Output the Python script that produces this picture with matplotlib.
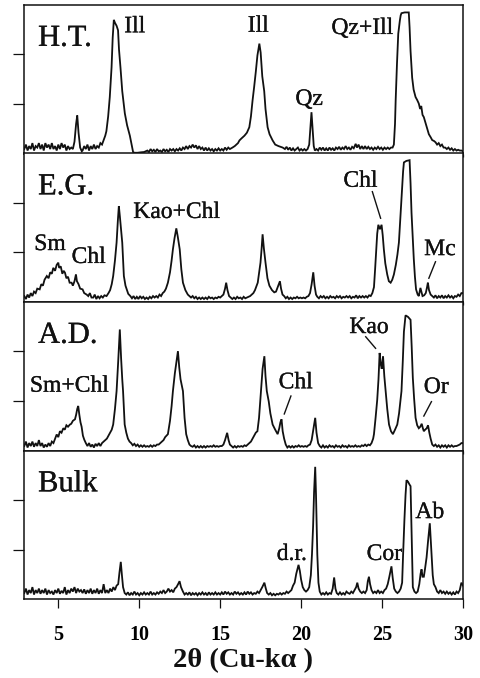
import matplotlib
matplotlib.use("Agg")
import matplotlib.pyplot as plt
import matplotlib.patheffects as pe

# ---------------- data (2theta, intensity in % of panel height) ----------------
ht_profile = [
    (2.9,3),(3.0,6),(3.1,2),(3.2,5),(3.3,3),(3.4,7),(3.5,2),(3.6,5),(3.7,4),(3.8,7),(3.9,3),(4.0,6),
    (4.1,2),(4.2,7),(4.3,4),(4.4,6),(4.5,3),(4.6,7),(4.7,3),(4.8,5),(4.9,2),(5.0,6),(5.1,3),(5.2,7),
    (5.3,4),(5.4,6),(5.5,2),(5.6,5),(5.7,3),(5.8,4),(5.9,3),(6.0,8),(6.1,20),(6.17,25.6),(6.25,14),
    (6.35,4),(6.45,1.5),(6.5,2),(6.6,5),(6.7,3),(6.8,6),(6.9,2),(7.0,5),(7.1,3),(7.2,6),(7.3,3),(7.4,5),
    (7.5,4),(7.6,7),(7.7,6),(7.8,9),(7.9,12),(7.97,15),(8.08,25),(8.18,38),(8.29,58),(8.36,78),(8.43,90),
    (8.5,88),(8.6,86),(8.69,83),(8.75,70),(8.84,58),(8.95,42),(9.11,27),(9.25,19),(9.42,12),(9.55,5),
    (9.62,1),(9.7,0.5),(9.9,0.5),(10.1,0.8),(10.3,1),(10.5,2),(10.6,1),(10.7,3),(10.8,1.5),(10.9,2.5),
    (11.0,1),(11.1,3),(11.2,1.5),(11.3,2),(11.4,1),(11.5,3),(11.6,1.5),(11.7,2.5),(11.8,1),(11.9,3),
    (12.0,2),(12.1,3),(12.2,1.5),(12.3,3),(12.4,2),(12.5,3.5),(12.6,2),(12.7,4),(12.8,3),(12.9,5),
    (13.0,3),(13.1,5),(13.2,4),(13.3,6),(13.4,4),(13.5,5.5),(13.6,3),(13.7,5),(13.8,3),(13.9,4),
    (14.0,2),(14.1,4),(14.2,2),(14.3,3.5),(14.4,2),(14.5,3),(14.6,1.5),(14.7,3),(14.8,2),(14.9,3.5),
    (15.0,2),(15.1,3),(15.2,2),(15.3,4),(15.4,2.5),(15.5,4),(15.6,3),(15.76,4),(15.9,5),(16.0,6),
    (16.1,7),(16.19,8.8),(16.3,10),(16.5,12),(16.65,14),(16.8,17.7),(16.9,25),(17.0,35.7),(17.1,45),
    (17.2,55),(17.3,66),(17.42,74),(17.5,68),(17.6,52),(17.72,42),(17.8,30),(17.93,17.7),(18.05,13),
    (18.24,8.8),(18.4,6),(18.6,5),(18.86,4),(19.0,3),(19.1,4.5),(19.2,2.5),(19.3,4),(19.4,2),(19.5,3.5),
    (19.6,2),(19.7,3),(19.8,4),(19.9,2),(20.0,3),(20.1,2),(20.2,3),(20.3,2),(20.4,3),(20.5,6),(20.58,18),
    (20.64,27.8),(20.7,18),(20.78,5),(20.85,2),(20.95,3),(21.05,2),(21.15,4),(21.25,2.5),(21.35,4),
    (21.45,2),(21.55,3.5),(21.65,2),(21.75,4),(21.85,2.5),(21.95,3.5),(22.05,2),(22.15,4),(22.25,3),
    (22.35,4.5),(22.45,2.5),(22.55,4),(22.65,3),(22.75,5),(22.85,3),(22.95,4),(23.05,2.5),(23.15,4.5),
    (23.25,3.5),(23.37,6.5),(23.45,4),(23.55,6),(23.65,3),(23.75,5),(23.85,3),(23.95,5),(24.05,3),
    (24.15,4.5),(24.25,3),(24.35,4),(24.45,2.5),(24.55,4),(24.65,3),(24.75,4.5),(24.85,3),(24.95,4),
    (25.05,2.5),(25.15,4),(25.25,3),(25.35,4),(25.45,3),(25.55,4),(25.65,4),(25.73,6),(25.8,20),
    (25.84,35.7),(25.92,60),(26.0,80.6),(26.1,89.6),(26.15,93),(26.2,94.5),(26.4,95),(26.65,95),
    (26.7,85),(26.76,69),(26.86,51),(26.95,43),(27.07,38),(27.17,36),(27.27,33.6),(27.35,30),(27.42,32),
    (27.5,26),(27.58,24.5),(27.7,20),(27.8,16),(27.89,13),(28.0,11),(28.1,9),(28.2,8.5),(28.3,7.6),
    (28.4,6),(28.5,7),(28.6,5),(28.7,6),(28.8,4),(28.9,4),(29.0,3),(29.1,4),(29.2,2.5),(29.3,3.5),
    (29.4,2),(29.5,3),(29.6,2),(29.7,2.5),(29.8,2),(29.9,2),(30.0,1.5),
]

eg_profile = [
    (2.9,4),(3.0,2),(3.1,5),(3.2,3),(3.3,6),(3.4,4),(3.5,7),(3.6,6),(3.7,9),(3.85,8.5),(3.95,12),
    (4.05,11),(4.15,15),(4.29,17.5),(4.4,16),(4.5,20),(4.6,19),(4.69,23),(4.8,21),(4.9,25),(5.0,26.5),
    (5.05,23),(5.15,24),(5.25,19),(5.33,21),(5.41,19.8),(5.5,16),(5.6,17),(5.7,13),(5.82,13),(5.9,11),
    (6.0,14),(6.09,18.6),(6.15,14),(6.25,12),(6.35,9),(6.5,8.5),(6.6,6),(6.75,5),(6.85,4),(6.95,6),
    (7.05,3),(7.16,3),(7.25,5),(7.35,2),(7.45,4),(7.55,2.5),(7.65,4),(7.75,3),(7.85,4.5),(7.98,4),
    (8.1,6),(8.2,8),(8.3,12),(8.39,17.5),(8.5,28),(8.6,40),(8.68,55),(8.74,64.6),(8.8,58),(8.88,48),
    (8.95,40),(9.05,17.5),(9.15,11),(9.32,5.5),(9.45,4),(9.55,2.5),(9.65,4),(9.75,2),(9.85,3.5),
    (9.95,2),(10.05,4),(10.15,2.5),(10.25,3.5),(10.35,2),(10.45,3),(10.55,2),(10.65,3.5),(10.75,2.5),
    (10.85,4),(10.95,3),(11.05,4),(11.15,3),(11.25,5),(11.35,4),(11.45,6),(11.55,7),(11.65,9),
    (11.77,13),(11.9,20),(12.0,28),(12.08,35.5),(12.18,43),(12.29,49.6),(12.38,44),(12.5,35.5),
    (12.6,22),(12.7,13),(12.85,8),(13.0,5),(13.1,4),(13.2,3),(13.3,4),(13.4,2.5),(13.5,3.5),(13.6,2),
    (13.7,3),(13.8,2),(13.9,3),(14.0,2),(14.1,3),(14.2,2),(14.3,3.5),(14.4,2.5),(14.5,3),(14.6,2),
    (14.7,3),(14.8,2.5),(14.9,3.5),(15.0,3),(15.1,4),(15.2,5),(15.3,9),(15.37,13),(15.45,8),(15.55,4),
    (15.65,3),(15.75,2),(15.85,3),(15.95,2),(16.05,3.5),(16.15,2.5),(16.25,3),(16.35,2),(16.45,3.5),
    (16.55,2.5),(16.65,3),(16.75,3.5),(16.85,4),(16.95,5),(17.05,6),(17.15,8),(17.32,13),(17.49,26.5),
    (17.56,36),(17.62,45.6),(17.7,36),(17.8,26.5),(17.92,16),(18.04,11),(18.2,8),(18.34,6.5),(18.45,7),
    (18.55,10),(18.62,12),(18.69,14),(18.76,9),(18.85,5),(18.95,4),(19.05,2.5),(19.15,3.5),(19.25,2),
    (19.35,3),(19.45,2),(19.55,3),(19.65,2.5),(19.75,3.5),(19.85,2.5),(19.95,3),(20.05,2.5),(20.15,3),
    (20.25,2.5),(20.35,3.5),(20.45,4),(20.55,6),(20.65,12),(20.75,20),(20.83,11),(20.92,5),(21.0,3.5),
    (21.1,2.5),(21.2,4),(21.3,3),(21.4,4),(21.5,2.5),(21.6,3.5),(21.7,2.5),(21.8,4),(21.9,3),(22.0,3.5),
    (22.1,2.5),(22.2,4),(22.3,3),(22.4,4),(22.5,2.5),(22.6,3.5),(22.7,3),(22.8,4),(22.9,3),(23.0,4),
    (23.1,2.5),(23.2,3.5),(23.3,3),(23.4,4.5),(23.5,2.5),(23.6,4),(23.7,3),(23.8,4),(23.9,3),(24.0,4),
    (24.1,3),(24.2,4.5),(24.3,4),(24.4,6),(24.5,10),(24.57,22),(24.64,35.5),(24.7,46),(24.77,52),
    (24.87,49),(24.97,52),(25.04,45),(25.11,35.5),(25.2,26),(25.32,18.5),(25.42,14),(25.53,13),
    (25.63,15),(25.73,18.5),(25.85,25),(25.95,32),(26.04,40),(26.15,60),(26.24,76),(26.3,88),(26.35,94),
    (26.5,95),(26.7,95.5),(26.76,80),(26.82,60),(26.9,42),(26.96,29),(27.03,17),(27.1,8.5),(27.2,5),
    (27.27,4),(27.37,9.5),(27.45,6),(27.5,4),(27.6,4.5),(27.7,6),(27.78,10),(27.83,13),(27.9,8),(28.0,5),
    (28.1,4),(28.2,3),(28.3,4.5),(28.4,2.5),(28.5,4),(28.6,3),(28.7,4.5),(28.8,2.5),(28.9,4),(29.0,3),
    (29.1,4.5),(29.2,3),(29.3,4),(29.4,2.5),(29.5,4),(29.6,3.5),(29.7,5),(29.8,4),(29.9,6),(30.0,6),
]

ad_profile = [
    (2.9,3),(3.0,6),(3.1,2),(3.2,5),(3.3,3),(3.4,6),(3.5,2.5),(3.6,5),(3.7,3),(3.8,7),(3.9,3),(4.0,5),
    (4.1,2),(4.2,4),(4.3,2.5),(4.4,5),(4.5,3),(4.6,6),(4.7,5),(4.8,8),(4.9,10.8),(5.0,9),(5.1,13),
    (5.2,12),(5.31,15),(5.4,14),(5.5,17),(5.6,16),(5.72,17.5),(5.8,18),(5.9,20),(6.03,21),(6.1,24),
    (6.17,28),(6.23,30),(6.3,24),(6.37,19),(6.44,16),(6.52,10),(6.6,7.4),(6.7,5),(6.8,3),(6.9,5),
    (7.0,2.5),(7.1,4),(7.2,2),(7.3,4.5),(7.4,3),(7.5,5),(7.6,3),(7.7,5),(7.8,6),(7.9,7),(8.0,8),
    (8.1,10),(8.2,12),(8.3,14),(8.39,17.5),(8.5,28),(8.6,40),(8.7,60),(8.8,81.5),(8.88,62),(8.95,48),
    (9.0,40),(9.05,28),(9.1,17.5),(9.2,12),(9.3,8),(9.4,6),(9.5,5),(9.6,3.5),(9.7,4.5),(9.8,3),(9.9,4),
    (10.0,2.5),(10.1,3.5),(10.2,2.5),(10.3,3.5),(10.4,2.5),(10.5,3),(10.6,2.5),(10.7,3.5),(10.8,2.5),
    (10.9,3.5),(11.0,3),(11.1,4),(11.2,4),(11.3,5),(11.4,6),(11.5,7),(11.6,9),(11.77,11),(11.9,20),
    (12.0,30),(12.08,40),(12.2,52),(12.3,60),(12.39,66.9),(12.47,56),(12.55,48),(12.7,40),(12.8,22),
    (12.9,11),(13.0,7),(13.1,4),(13.2,3),(13.3,2.5),(13.4,3.5),(13.5,2),(13.6,3),(13.7,2),(13.8,3),
    (13.9,2),(14.0,3),(14.1,2),(14.2,3),(14.3,2.5),(14.4,3),(14.5,2.5),(14.6,3.5),(14.7,2.5),(14.8,3),
    (14.9,2.5),(15.0,3),(15.1,3),(15.2,4),(15.3,7),(15.43,11.9),(15.52,7),(15.6,4),(15.7,3),(15.8,2),
    (15.9,3),(16.0,2),(16.1,3),(16.2,2.5),(16.3,3),(16.4,2.5),(16.5,3.5),(16.6,3),(16.7,4),(16.8,5),
    (16.9,6),(17.0,8),(17.1,10),(17.2,12),(17.3,13),(17.4,22),(17.52,40),(17.62,55),(17.73,63.5),
    (17.8,50),(17.88,40),(18.0,33),(18.1,25),(18.24,17.5),(18.4,14),(18.55,11),(18.65,15),(18.72,19),
    (18.79,21),(18.86,13),(18.95,8),(19.05,4),(19.15,2),(19.25,3),(19.35,2),(19.45,3),(19.55,2),
    (19.65,3),(19.75,2.5),(19.85,3.5),(19.95,2.5),(20.05,3),(20.15,2.5),(20.25,3),(20.35,2.5),
    (20.45,3.5),(20.55,4),(20.65,7),(20.75,14),(20.87,22),(20.95,12),(21.05,5),(21.15,3),(21.25,2),
    (21.35,3.5),(21.45,2),(21.55,3),(21.65,2),(21.75,3.5),(21.85,2.5),(21.95,3),(22.05,2),(22.15,3.5),
    (22.25,2.5),(22.35,3),(22.45,2),(22.55,3.5),(22.65,2.5),(22.75,3),(22.85,2),(22.95,3.5),(23.05,2.5),
    (23.15,3),(23.25,2.5),(23.35,3.5),(23.45,2.5),(23.55,3),(23.65,2.5),(23.75,3.5),(23.85,3),(23.95,4),
    (24.05,3),(24.15,4),(24.25,3.5),(24.35,5),(24.45,8),(24.5,11),(24.6,22),(24.7,34),(24.78,48),
    (24.85,65.7),(24.92,58),(24.98,55),(25.06,63.5),(25.14,50),(25.22,40),(25.32,28),(25.43,17.5),
    (25.55,13),(25.67,11),(25.8,14),(25.94,17.5),(26.05,25),(26.2,40),(26.28,60),(26.35,80),(26.45,91),
    (26.6,90),(26.76,88),(26.83,70),(26.9,49),(26.98,35),(27.07,22),(27.17,17),(27.27,15),(27.36,16),
    (27.45,18),(27.52,15),(27.58,13),(27.66,14),(27.76,15),(27.84,17),(27.92,12),(28.0,8),(28.1,4),
    (28.2,3),(28.3,4),(28.4,2.5),(28.5,3.5),(28.6,2),(28.7,3.5),(28.8,2.5),(28.9,3.5),(29.0,2),
    (29.1,3.5),(29.2,2.5),(29.3,3.5),(29.4,2.5),(29.5,3),(29.6,3),(29.7,3.5),(29.8,4),(29.9,5),(30.0,5),
]

bulk_profile = [
    (2.9,4),(3.0,7),(3.1,3),(3.2,6),(3.3,4),(3.4,8),(3.5,3),(3.6,6),(3.7,4),(3.8,7),(3.9,3.5),(4.0,6),
    (4.1,4),(4.2,7),(4.3,3),(4.4,6),(4.5,4),(4.6,5),(4.7,3),(4.8,6),(4.9,4),(5.0,7),(5.1,3.5),(5.2,5.5),
    (5.3,4),(5.4,8),(5.5,3),(5.6,6),(5.7,4),(5.8,7),(5.9,5),(6.0,8),(6.1,4),(6.2,7),(6.3,5),(6.4,6),
    (6.5,4),(6.6,6.5),(6.7,3.5),(6.8,6),(6.9,4),(7.0,7),(7.1,3.5),(7.2,6),(7.3,4),(7.4,7),(7.5,3.5),
    (7.6,6),(7.7,4),(7.8,10),(7.9,4),(8.0,6),(8.1,4),(8.2,7),(8.3,5),(8.4,8),(8.5,6),(8.6,9),(8.7,10),
    (8.78,18),(8.86,25),(8.93,16),(9.0,8),(9.1,4),(9.2,3),(9.3,4.5),(9.4,2.5),(9.5,4),(9.6,3),(9.7,5),
    (9.8,3),(9.9,4),(10.0,2.5),(10.1,4),(10.2,3),(10.3,4.5),(10.4,3),(10.5,4),(10.6,3),(10.7,5),(10.8,3),
    (10.9,4),(11.0,3),(11.1,4.5),(11.2,3.5),(11.3,5),(11.4,4),(11.5,6),(11.6,4),(11.7,5),(11.8,7),
    (11.9,5),(12.0,6),(12.1,4.5),(12.2,7),(12.3,8),(12.4,10),(12.49,12),(12.58,8),(12.7,5),(12.8,3),
    (12.9,4),(13.0,3),(13.1,4.5),(13.2,2.5),(13.3,4),(13.4,3),(13.5,4),(13.6,2.5),(13.7,4),(13.8,3),
    (13.9,4.5),(14.0,3),(14.1,4),(14.2,2.5),(14.3,4.5),(14.4,3),(14.5,4),(14.6,3),(14.7,4.5),(14.8,3),
    (14.9,4),(15.0,3),(15.1,4.5),(15.2,3),(15.3,5),(15.4,3.5),(15.5,4.5),(15.6,3),(15.7,4),(15.8,3),
    (15.9,5),(16.0,3.5),(16.1,4.5),(16.2,3),(16.3,4),(16.4,3),(16.5,4.5),(16.6,3),(16.7,5),(16.8,3.5),
    (16.9,4.5),(17.0,3),(17.1,4),(17.2,3.5),(17.3,5),(17.4,4),(17.5,6),(17.6,8),(17.73,11),(17.82,7),
    (17.9,4),(18.0,3),(18.1,4),(18.2,2.5),(18.3,3.5),(18.4,2.5),(18.5,3.5),(18.6,3),(18.7,4),(18.8,3),
    (18.9,4),(19.0,3.5),(19.1,5),(19.2,4),(19.3,5),(19.4,6),(19.5,9),(19.6,11),(19.7,17),(19.84,23),
    (19.92,19),(20.0,13),(20.1,8),(20.2,6),(20.3,5),(20.4,6),(20.5,8),(20.6,16),(20.67,30),(20.74,49),
    (20.8,72),(20.87,89),(20.92,70),(20.95,55),(21.0,30),(21.07,11),(21.15,5),(21.25,3),(21.35,4),
    (21.45,3),(21.55,4.5),(21.65,3),(21.75,4),(21.85,3.5),(21.95,7),(22.04,14.5),(22.12,7),(22.2,4),
    (22.3,3),(22.4,4.5),(22.5,3),(22.6,4),(22.7,3),(22.8,5),(22.9,4),(23.0,3.5),(23.1,5),(23.2,4),
    (23.3,6),(23.4,8),(23.47,11),(23.55,7),(23.65,5),(23.75,4),(23.85,5),(23.95,4),(24.05,6),(24.12,12),
    (24.19,15),(24.26,10),(24.35,6),(24.45,4),(24.55,5),(24.65,4),(24.75,6),(24.85,4),(24.95,5),
    (25.05,4),(25.15,6),(25.25,7),(25.35,10),(25.45,15),(25.58,22),(25.66,14),(25.75,7),(25.85,5),
    (25.95,4),(26.05,5),(26.15,7),(26.24,11),(26.3,30),(26.38,53),(26.45,70),(26.51,80),(26.6,79),
    (26.7,77),(26.76,76),(26.82,47),(26.86,25),(26.9,8),(27.0,5),(27.1,4),(27.2,5),(27.3,10),(27.38,17),
    (27.44,20),(27.5,15),(27.58,15),(27.65,20),(27.75,28),(27.85,40),(27.95,51),(28.03,35),(28.13,16),
    (28.2,10),(28.3,8),(28.4,5),(28.5,4),(28.6,6),(28.7,4),(28.8,5),(28.9,3.5),(29.0,5),(29.1,3.5),
    (29.2,4.5),(29.3,3),(29.4,4.5),(29.5,3),(29.6,5),(29.7,4),(29.8,6),(29.9,11),(30.0,9),
]

panel_names = ["H.T.", "E.G.", "A.D.", "Bulk"]
x_ticks = [5, 10, 15, 20, 25, 30]
x_label = "2\u03b8 (Cu-k\u03b1 )"

# peak labels: (text, 2theta, intensity), leader lines: ((x0,y0),(x1,y1))
ht_labels = [("Ill", 9.73, 81.6), ("Ill", 17.36, 82.0), ("Qz", 20.5, 32.7), ("Qz+Ill", 23.79, 80.5)]
eg_labels = [("Sm", 4.49, 35.0), ("Chl", 6.88, 26.3), ("Kao+Chl", 12.31, 56.6),
             ("Chl", 23.67, 77.6), ("Mc", 28.57, 31.6)]
ad_labels = [("Sm+Chl", 5.69, 39.6), ("Chl", 19.67, 41.9), ("Kao", 24.19, 79.1), ("Or", 28.35, 38.7)]
bulk_labels = [("d.r.", 19.42, 26.3), ("Cor", 25.14, 26.3), ("Ab", 27.95, 54.5)]

ht_leaders = []
eg_leaders = [((24.40, 74.3), (24.91, 56.4)), ((28.30, 27.1), (27.89, 16.0))]
ad_leaders = [((19.37, 36.7), (18.96, 24.6)), ((23.99, 76.6), (24.60, 68.8)), ((28.05, 32.9), (27.58, 23.2))]
bulk_leaders = []

profiles = [ht_profile, eg_profile, ad_profile, bulk_profile]
labels = [ht_labels, eg_labels, ad_labels, bulk_labels]
leaders = [ht_leaders, eg_leaders, ad_leaders, bulk_leaders]

# ---------------- figure ----------------
plt.rcParams['font.family'] = ['Liberation Serif', 'DejaVu Serif']
W, H = 480, 678
fig = plt.figure(figsize=(W / 100, H / 100), dpi=100)

left_px, right_px = 23.5, 463.0
top_px, panel_h = 5.0, 148.5
ink = "#111111"
heavy = [pe.withStroke(linewidth=0.2, foreground=ink)]

for i in range(4):
    bottom_px = top_px + panel_h * (i + 1)
    ax = fig.add_axes([left_px / W, 1 - bottom_px / H, (right_px - left_px) / W, panel_h / H])
    xs = [p[0] for p in profiles[i]]
    ys = [p[1] for p in profiles[i]]
    ax.plot(xs, ys, color=ink, lw=1.3, solid_joinstyle='miter')
    ax.set_xlim(2.85, 30)
    ax.set_ylim(0, 100)
    for s in ax.spines.values():
        s.set_linewidth(1.1)
        s.set_color(ink)
    ax.set_yticks([100 / 3, 200 / 3])
    ax.tick_params(axis='y', direction='out', length=8, width=0.9, labelleft=False, color=ink)
    ax.set_xticks(x_ticks)
    if i < 3:
        ax.tick_params(axis='x', direction='out', length=2.5, width=0.9, labelbottom=False, color=ink)
    else:
        ax.set_xticklabels([str(t) for t in x_ticks])
        ax.tick_params(axis='x', direction='out', length=6.5, width=0.9, pad=12, color=ink,
                       labelsize=14.5)
        for lab in ax.get_xticklabels():
            lab.set_fontweight('bold')
    ax.text(3.75, 72.5, panel_names[i], fontsize=22, ha='left', va='baseline', color=ink,
            path_effects=heavy)
    for (t, x, y) in labels[i]:
        ax.text(x, y, t, fontsize=17, ha='center', va='baseline', color=ink, path_effects=heavy)
    for (p0, p1) in leaders[i]:
        ax.plot([p0[0], p1[0]], [p0[1], p1[1]], color=ink, lw=1.0)

fig.text((left_px + right_px) / 2 / W, 1 - 661 / H, x_label, fontsize=20.5, fontweight='bold',
         ha='center', va='center', color=ink)

fig.savefig("out.png", dpi=100)
